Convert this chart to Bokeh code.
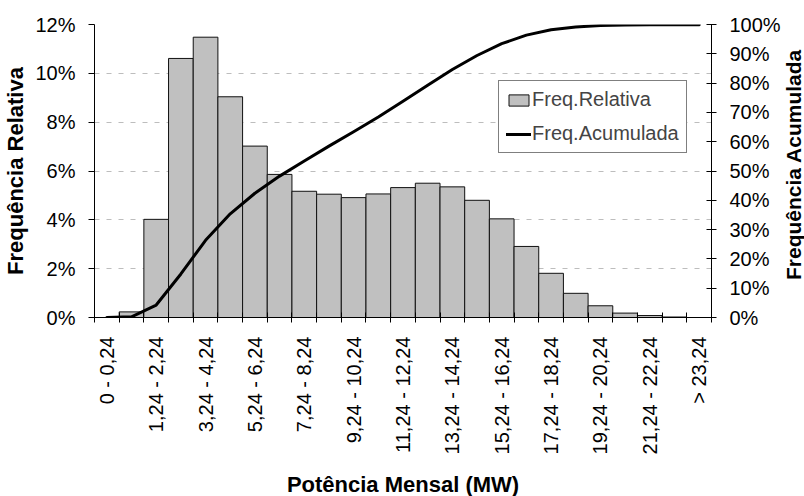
import numpy as np
from bokeh.plotting import figure
from bokeh.layouts import row
from bokeh.models import (Range1d, LinearAxis, FixedTicker, NumeralTickFormatter,
                          Legend, LegendItem, ColumnDataSource, Label)
from bokeh.embed import file_html
from bokeh.resources import INLINE

categories = ["0 - 0,24", "0,24 - 1,24", "1,24 - 2,24", "2,24 - 3,24", "3,24 - 4,24",
              "4,24 - 5,24", "5,24 - 6,24", "6,24 - 7,24", "7,24 - 8,24", "8,24 - 9,24",
              "9,24 - 10,24", "10,24 - 11,24", "11,24 - 12,24", "12,24 - 13,24",
              "13,24 - 14,24", "14,24 - 15,24", "15,24 - 16,24", "16,24 - 17,24",
              "17,24 - 18,24", "18,24 - 19,24", "19,24 - 20,24", "20,24 - 21,24",
              "21,24 - 22,24", "22,24 - 23,24", "> 23,24"]
freq_relativa = [0.0, 0.23, 4.02, 10.61, 11.48, 9.04, 7.02, 5.86, 5.17, 5.05, 4.91, 5.06,
                 5.32, 5.50, 5.35, 4.80, 4.04, 2.91, 1.81, 0.99, 0.48, 0.18, 0.08, 0.02, 0.0]
left_ticks = [0, 2, 4, 6, 8, 10, 12]
right_ticks = [0, 10, 20, 30, 40, 50, 60, 70, 80, 90, 100]

n = len(categories)
xc = np.arange(n) + 0.5
rel = np.array(freq_relativa) / 100.0
cum = np.cumsum(freq_relativa) / 100.0

FONT = "Liberation Sans"

p = figure(frame_width=617, frame_height=293, output_backend="svg", toolbar_location=None,
           x_range=Range1d(0, n), y_range=Range1d(0, 0.12),
           min_border_left=94, min_border_right=69, min_border_top=24, min_border_bottom=179)
p.extra_y_ranges = {"cum": Range1d(0, 1.0)}
p.outline_line_color = None
p.background_fill_color = "white"
p.border_fill_color = "white"

src = ColumnDataSource(dict(x=xc, top=rel, cum=cum))
bars = p.vbar(x="x", top="top", width=1.0, source=src, fill_color="#c0c0c0",
              line_color="#111111", line_width=1)
line = p.line(x="x", y="cum", source=src, y_range_name="cum", line_color="black",
              line_width=3, line_join="round", line_cap="round")

# x axis
xa = p.xaxis[0]
xa.ticker = FixedTicker(ticks=list(xc[::2]), minor_ticks=list(range(n + 1)))
xa.major_label_overrides = {float(xc[i]): categories[i] for i in range(0, n, 2)}
xa.major_label_orientation = np.pi / 2
xa.major_tick_out = 5
xa.minor_tick_in = 5
xa.minor_tick_out = 5
xa.minor_tick_line_color = "black"
xa.major_label_standoff = 14
xa.axis_label = "Potência Mensal (MW)"
xa.axis_label_standoff = 15

# left axis
ya = p.yaxis[0]
ya.ticker = FixedTicker(ticks=[t / 100 for t in left_ticks])
ya.formatter = NumeralTickFormatter(format="0%")
ya.major_tick_out = 6
ya.major_tick_in = 0
ya.minor_tick_line_color = None
ya.major_label_standoff = 13
ya.axis_label = "Frequência Relativa"
ya.axis_label_standoff = 4

ra = LinearAxis(y_range_name="cum", ticker=FixedTicker(ticks=[t / 100 for t in right_ticks]),
                formatter=NumeralTickFormatter(format="0%"))
ra.major_tick_out = 5
ra.major_tick_in = 5
ra.minor_tick_line_color = None
ra.major_label_standoff = 13
p.add_layout(ra, "right")

for ax in [xa, ya, ra]:
    ax.axis_line_color = "black"
    ax.major_tick_line_color = None if ax is xa else "black"
    ax.major_label_text_font = FONT
    ax.major_label_text_font_size = "20px"
    ax.major_label_text_color = "black"
    ax.axis_label_text_font = FONT
    ax.axis_label_text_font_size = "22px"
    ax.axis_label_text_font_style = "bold"
    ax.axis_label_text_color = "black"

p.xgrid.grid_line_color = None
p.ygrid.grid_line_color = "#bdbdbd"
p.ygrid.grid_line_dash = "5 7"
p.ygrid.grid_line_width = 1

legend = Legend(items=[LegendItem(label="Freq.Relativa", renderers=[bars]),
                       LegendItem(label="Freq.Acumulada", renderers=[line])],
                location=(404, 164))
legend.border_line_color = "black"
legend.border_line_width = 1
legend.background_fill_color = "white"
legend.background_fill_alpha = 1
legend.label_text_font = FONT
legend.label_text_font_size = "20px"
legend.glyph_width = 25
legend.glyph_height = 14
legend.label_standoff = 1
legend.spacing = 11
legend.padding = 7
legend.margin = 0
p.add_layout(legend)

# narrow strip on the right holding the right-hand axis title (reads bottom to top)
side = figure(frame_width=24, frame_height=496, output_backend="svg", toolbar_location=None,
              x_axis_type=None, y_axis_type=None, x_range=Range1d(0, 1), y_range=Range1d(0, 1),
              min_border=0)
side.outline_line_color = None
side.grid.grid_line_color = None
side.background_fill_color = "white"
side.border_fill_color = "white"
side.add_layout(Label(x=10, y=356, x_units="screen", y_units="screen",
                      text="Frequência Acumulada", angle=np.pi / 2,
                      text_align="center", text_baseline="middle",
                      text_font=FONT, text_font_size="21px", text_font_style="bold",
                      text_color="black"))

layout = row(p, side, spacing=0)
open("out.html", "w").write(file_html(layout, INLINE))
